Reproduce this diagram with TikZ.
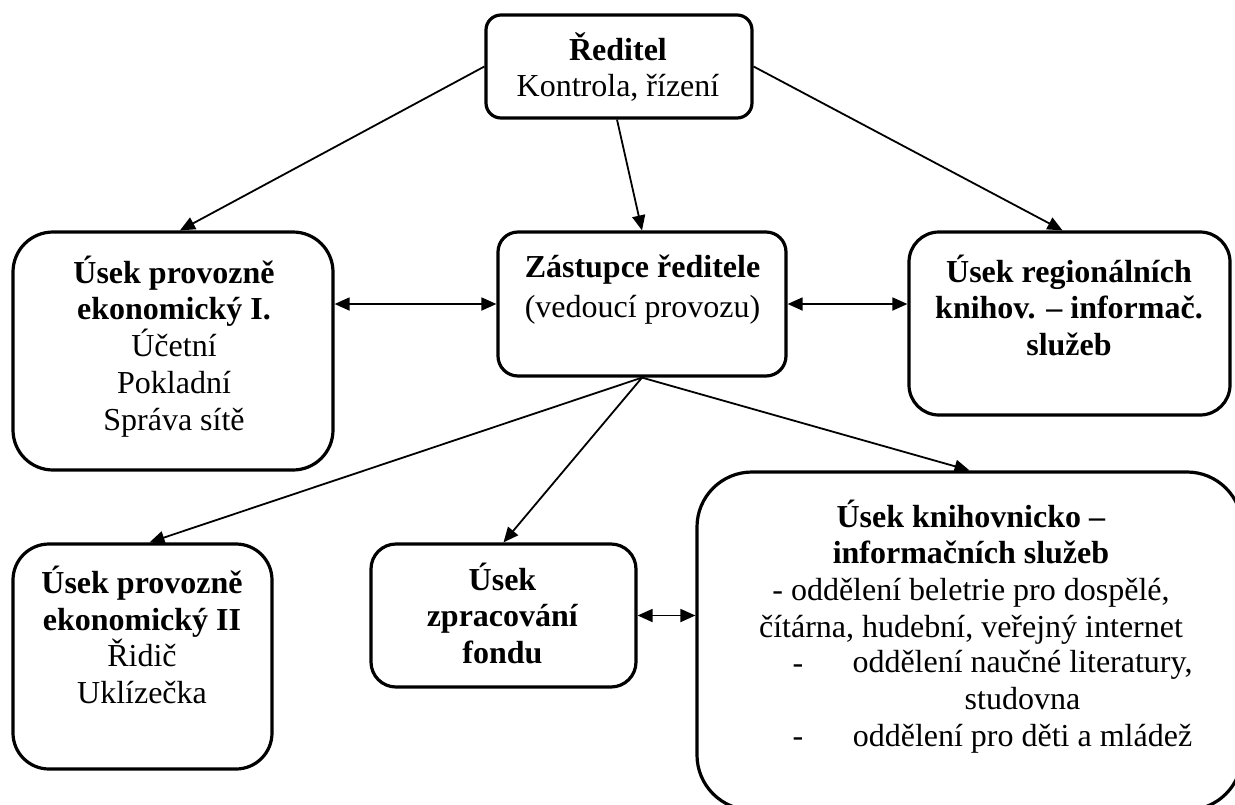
\documentclass[tikz,border=0pt]{standalone}
\usepackage{fontspec}
\setmainfont{Liberation Serif}
\usetikzlibrary{arrows.meta}
\begin{document}
\begin{tikzpicture}[x=1pt,y=-1pt,
  box/.style={draw, line width=3.2pt, rounded corners=#1, inner sep=0pt},
  txt/.style={align=center, inner sep=0pt, font=\fontsize{32}{36.7}\selectfont, anchor=base},
  tip/.tip={Triangle[length=15pt,width=13pt]},
  con/.style={line width=1.8pt, -tip},
  dcon/.style={line width=1.8pt, tip-tip},
]
\useasboundingbox (0,0) rectangle (1235,804);
\clip (0,0) rectangle (1235,804);
\fill[white] (0,0) rectangle (1235,804);

% boxes
\node[box=15pt, minimum width=266pt, minimum height=103pt] (dir) at (619,66.5) {};
\node[box=40pt, minimum width=320pt, minimum height=238pt] (prov1) at (173,351) {};
\node[box=20pt, minimum width=288pt, minimum height=144pt] (zast) at (642,304) {};
\node[box=30pt, minimum width=321pt, minimum height=183pt] (reg) at (1069.5,323.5) {};
\node[box=36pt, minimum width=259pt, minimum height=225pt] (prov2) at (142.5,656.5) {};
\node[box=25pt, minimum width=265pt, minimum height=143pt] (fond) at (503.5,615.5) {};
\node[box=55pt, minimum width=545pt, minimum height=338pt] (kis) at (969.5,641) {};

% texts (anchor = baseline of the last line)
\node[txt] (tdir) at (618,96.7) {\textbf{Ředitel}\\Kontrola, řízení};
\node[txt] (tprov1) at (174,430) {\textbf{Úsek provozně}\\\textbf{ekonomický I.}\\Účetní\\Pokladní\\Správa sítě};
\node[txt] (tzast) at (642.5,317) {\textbf{Zástupce ředitele}\\[3.3pt](vedoucí provozu)};
\node[txt] (treg) at (1069,355.4) {\textbf{Úsek regionálních}\\\textbf{knihov. – informač.}\\\textbf{služeb}};
\node[txt] (tprov2) at (142,703.5) {\textbf{Úsek provozně}\\\textbf{ekonomický II}\\Řidič\\Uklízečka};
\node[txt] (tfond) at (502.5,663.4) {\textbf{Úsek}\\\textbf{zpracování}\\\textbf{fondu}};
\node[txt] (tkis) at (971,637.1) {\textbf{Úsek knihovnicko –}\\\textbf{informačních služeb}\\- oddělení beletrie pro dospělé,\\čítárna, hudební, veřejný internet};
\node[txt] (tkis2) at (1022.5,746) {oddělení naučné literatury,\\studovna\\oddělení pro děti a mládež};
\node[txt] (dash1) at (798,673) {-};
\node[txt] (dash2) at (798,746) {-};

% connectors
\draw[con] (dir.west) -- ([xshift=7pt]prov1.north);
\draw[con] ([xshift=-2pt]dir.south) -- (zast.north);
\draw[con] (dir.east) -- ([xshift=-7pt]reg.north);
\draw[dcon] (prov1.east |- zast.west) -- (zast.west);
\draw[dcon] (zast.east) -- (reg.west |- zast.east);
\draw[con] (zast.south) -- ([xshift=7pt]prov2.north);
\draw[con] (zast.south) -- (fond.north);
\draw[con] (zast.south) -- (kis.north);
\draw[dcon] (fond.east) -- (kis.west |- fond.east);
\end{tikzpicture}
\end{document}
